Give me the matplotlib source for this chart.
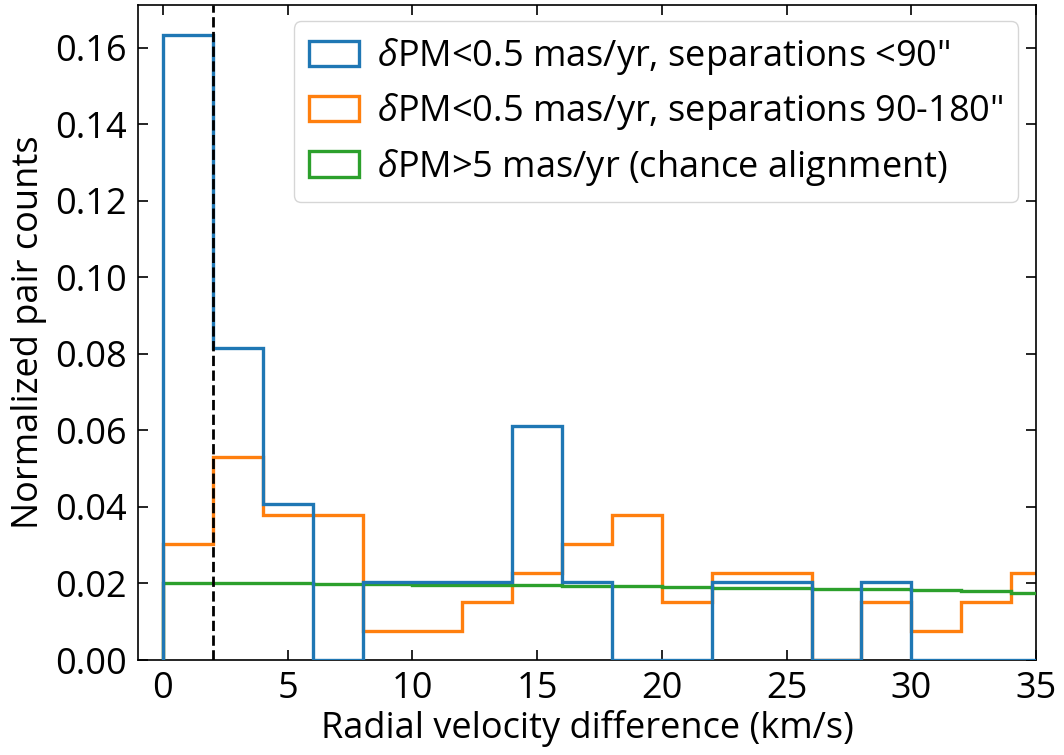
import matplotlib

matplotlib.use("Agg")
import matplotlib.pyplot as plt
import numpy as np

plt.rcParams["font.family"] = ["Open Sans", "DejaVu Sans"]
plt.rcParams["mathtext.fontset"] = "custom"
plt.rcParams["mathtext.rm"] = "Open Sans"
plt.rcParams["mathtext.it"] = "Open Sans:italic"

# bin edges in km/s
edges = np.arange(0, 38, 2)

# normalized pair counts per bin
close_pairs = [0.1633, 0.0816, 0.0408, 0.0, 0.0204, 0.0204, 0.0204, 0.0612, 0.0204,
               0.0, 0.0, 0.0204, 0.0204, 0.0, 0.0204, 0.0, 0.0, 0.0]
wide_pairs = [0.0303, 0.0530, 0.0379, 0.0379, 0.0076, 0.0076, 0.0152, 0.0227, 0.0303,
              0.0379, 0.0152, 0.0227, 0.0227, 0.0, 0.0152, 0.0076, 0.0152, 0.0227]
chance_pairs = [0.0200, 0.0200, 0.0202, 0.0199, 0.0198, 0.0195, 0.0196, 0.0197, 0.0194,
                0.0193, 0.0191, 0.0189, 0.0188, 0.0186, 0.0185, 0.0184, 0.0180, 0.0174]

labels = [
    r'$\delta$PM<0.5 mas/yr, separations <90"',
    r'$\delta$PM<0.5 mas/yr, separations 90-180"',
    r'$\delta$PM>5 mas/yr (chance alignment)',
]
colors = ["#1f77b4", "#ff7f0e", "#2ca02c"]
cut = 2.0
fs = 26

fig = plt.figure(figsize=(10.64, 7.55), dpi=100)
ax = fig.add_axes([0.1297, 0.1258, 0.8440, 0.8676])

centers = edges[:-1] + 1
handles = {}
# draw order: orange, green, blue on top
for vals, lab, col, z in [(wide_pairs, labels[1], colors[1], 2),
                          (chance_pairs, labels[2], colors[2], 3),
                          (close_pairs, labels[0], colors[0], 4)]:
    _, _, patches = ax.hist(centers, bins=edges, weights=vals, histtype="step",
                            color=col, lw=2.4, zorder=z, label=lab)
    handles[lab] = patches[0]

ax.axvline(cut, color="black", ls="--", lw=2, zorder=5)

ax.set_xlim(-1, 35)
ax.set_ylim(0, 0.1712)
ax.set_xticks(np.arange(0, 36, 5))
yt = np.arange(0, 0.17, 0.02)
ax.set_yticks(yt)
ax.set_yticklabels([f"{v:.2f}" for v in yt])
ax.tick_params(direction="in", top=True, right=True, length=7, width=1.2,
               labelsize=fs, pad=8)
for sp in ax.spines.values():
    sp.set_linewidth(1.2)

ax.set_xlabel("Radial velocity difference (km/s)", fontsize=fs, labelpad=2)
ax.set_ylabel("Normalized pair counts", fontsize=fs, labelpad=6)

ax.legend([handles[l] for l in labels], labels, loc="upper right",
          fontsize=fs, bbox_to_anchor=(0.98, 0.975), handlelength=1.4,
          handleheight=0.7, labelspacing=0.4, borderpad=0.4, handletextpad=0.5,
          borderaxespad=0.0, framealpha=0.8)

fig.savefig("out.png", dpi=100)
